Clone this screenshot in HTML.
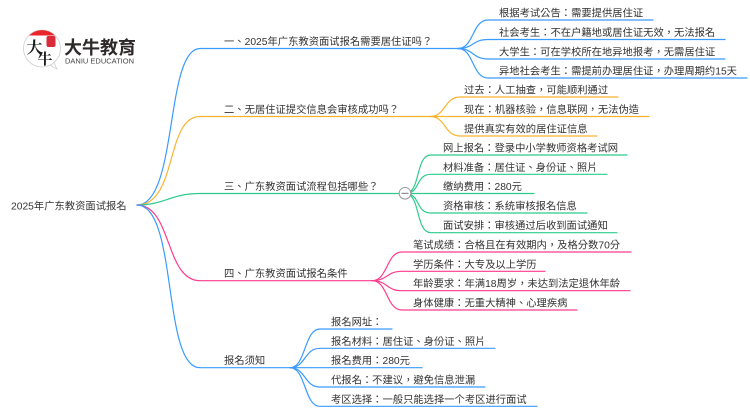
<!DOCTYPE html>
<html lang="zh-Hant"><head><meta charset="utf-8"><title>2025年广东教资面试报名</title>
<style>
html,body{margin:0;padding:0;background:#fff}
svg{display:block}
text{font-family:"Liberation Sans","Noto Sans CJK TC",sans-serif;font-size:10.3px;fill:#333}
path{fill:none;stroke-width:1.2;stroke-linecap:round}
.b{stroke:#3a9bff}.o{stroke:#fdb22f}.g{stroke:#2fcb8c}.p{stroke:#ff3d8e}
</style></head><body>
<svg xmlns="http://www.w3.org/2000/svg" width="750" height="410" viewBox="0 0 750 410">
<!-- logo -->
<circle cx="42" cy="48.500" r="18.500" fill="#fff" stroke="#cfcfcf" stroke-width="0.8"/>
<path d="M50 65 L57 69 L54 63" stroke="#cfcfcf" style="stroke-width:.8"/>
<path d="M29 35.500 A18.500 18.500 0 0 1 55 35.500 Z" style="fill:#e8262b;stroke:none"/>
<rect x="46.500" y="36" width="9" height="11" rx="2" fill="#d92b3a"/>
<text x="26.500" y="53" style="font-size:16px;font-weight:700;font-family:'Liberation Sans','Noto Serif CJK SC',serif;fill:#1c1c1c">大</text>
<text x="37.500" y="64" style="font-size:15px;font-weight:700;font-family:'Liberation Sans','Noto Serif CJK SC',serif;fill:#1c1c1c">牛</text>
<text x="64" y="54" style="font-size:18px;font-weight:700;fill:#2e2a2a">大牛教育</text>
<text x="65" y="63.500" style="font-size:7px;fill:#444" textLength="69" lengthAdjust="spacingAndGlyphs">DANIU EDUCATION</text>

<!-- root connectors -->
<path class="b" d="M137 205 C178 205 165 48.500 200 48.500 L458 48.500"/>
<path class="o" d="M137 205 C178 205 165 116.500 200 116.500 L430 116.500"/>
<path class="g" d="M137 205 C165 205 170 193.500 200 193.500 L400 193.500"/>
<path class="p" d="M137 205 C172 205 165 280.700 200 280.700 L372 280.700"/>
<path class="b" d="M137 205 C178 205 162 367.700 200 367.700 L290 367.700"/>

<!-- branch 1 -->
<path class="b" d="M458 48.500 C474 48.500 472 20 488 20 L653 20"/>
<path class="b" d="M458 48.500 C474 48.500 472 39.500 488 39.500 L725 39.500"/>
<path class="b" d="M458 48.500 C474 48.500 472 59 488 59 L725 59"/>
<path class="b" d="M458 48.500 C474 48.500 472 78 488 78 L747 78"/>
<!-- branch 2 -->
<path class="o" d="M430 116.500 C446 116.500 444 97 460 97 L618 97"/>
<path class="o" d="M430 116.500 L649 116.500"/>
<path class="o" d="M430 116.500 C446 116.500 444 136 460 136 L597 136"/>
<!-- branch 3 -->
<path class="g" d="M405 193.500 C421 193.500 415 155 431 155 L627 155"/>
<path class="g" d="M405 193.500 C421 193.500 415 174.300 431 174.300 L607 174.300"/>
<path class="g" d="M405 193.500 L534 193.500"/>
<path class="g" d="M405 193.500 C421 193.500 415 213 431 213 L587 213"/>
<path class="g" d="M405 193.500 C421 193.500 415 232.700 431 232.700 L617 232.700"/>
<circle cx="405" cy="193.300" r="5.800" fill="#fff" stroke="#999" stroke-width="1"/>
<line x1="401.500" y1="193.300" x2="408.500" y2="193.300" stroke="#777" stroke-width="1"/>
<!-- branch 4 -->
<path class="p" d="M372 280.700 C388 280.700 386 252 402 252 L631 252"/>
<path class="p" d="M372 280.700 C388 280.700 386 271.300 402 271.300 L545 271.300"/>
<path class="p" d="M372 280.700 C388 280.700 386 290.700 402 290.700 L630 290.700"/>
<path class="p" d="M372 280.700 C388 280.700 386 310 402 310 L577 310"/>
<!-- branch 5 -->
<path class="b" d="M290 367.700 C306 367.700 304 329 320 329 L392 329"/>
<path class="b" d="M290 367.700 C306 367.700 304 348.300 320 348.300 L495 348.300"/>
<path class="b" d="M290 367.700 L422 367.700"/>
<path class="b" d="M290 367.700 C306 367.700 304 387 320 387 L485 387"/>
<path class="b" d="M290 367.700 C306 367.700 304 406.300 320 406.300 L537 406.300"/>

<!-- labels -->
<text x="11" y="209.500">2025年广东教资面试报名</text>
<text x="224" y="45">一、2025年广东教资面试报名需要居住证吗？</text>
<text x="224" y="113">二、无居住证提交信息会审核成功吗？</text>
<text x="224" y="190">三、广东教资面试流程包括哪些？</text>
<text x="224" y="277">四、广东教资面试报名条件</text>
<text x="224" y="364">报名须知</text>

<text x="499" y="16.500">根据考试公告：需要提供居住证</text>
<text x="499" y="36">社会考生：不在户籍地或居住证无效，无法报名</text>
<text x="499" y="55.500">大学生：可在学校所在地异地报考，无需居住证</text>
<text x="499" y="74.500">异地社会考生：需提前办理居住证，办理周期约15天</text>

<text x="464" y="93.500">过去：人工抽查，可能顺利通过</text>
<text x="464" y="113">现在：机器核验，信息联网，无法伪造</text>
<text x="464" y="132.500">提供真实有效的居住证信息</text>

<text x="443" y="151.500">网上报名：登录中小学教师资格考试网</text>
<text x="443" y="171">材料准备：居住证、身份证、照片</text>
<text x="443" y="190">缴纳费用：280元</text>
<text x="443" y="209.500">资格审核：系统审核报名信息</text>
<text x="443" y="229">面试安排：审核通过后收到面试通知</text>

<text x="413" y="248.500">笔试成绩：合格且在有效期内，及格分数70分</text>
<text x="413" y="268">学历条件：大专及以上学历</text>
<text x="413" y="287">年龄要求：年满18周岁，未达到法定退休年龄</text>
<text x="413" y="306.500">身体健康：无重大精神、心理疾病</text>

<text x="331" y="325.500">报名网址：</text>
<text x="331" y="345">报名材料：居住证、身份证、照片</text>
<text x="331" y="364">报名费用：280元</text>
<text x="331" y="383.500">代报名：不建议，避免信息泄漏</text>
<text x="331" y="403">考区选择：一般只能选择一个考区进行面试</text>
</svg>
</body></html>
